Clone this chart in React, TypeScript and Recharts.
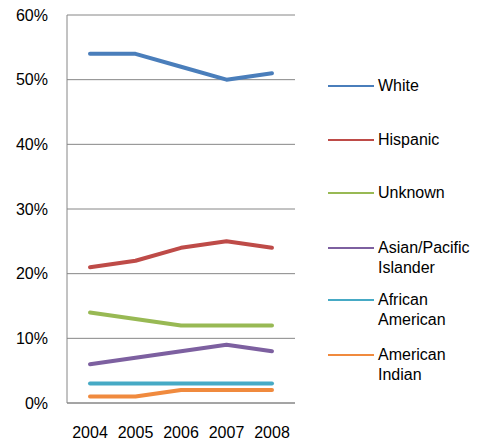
import React from "react";
import { LineChart, Line, XAxis, YAxis, CartesianGrid } from "recharts";

const years = ["2004", "2005", "2006", "2007", "2008"];
const white = [0.54, 0.54, 0.52, 0.5, 0.51];
const hispanic = [0.21, 0.22, 0.24, 0.25, 0.24];
const unknown = [0.14, 0.13, 0.12, 0.12, 0.12];
const asianPacific = [0.06, 0.07, 0.08, 0.09, 0.08];
const africanAmerican = [0.03, 0.03, 0.03, 0.03, 0.03];
const americanIndian = [0.01, 0.01, 0.02, 0.02, 0.02];
const yTicks = [0, 0.1, 0.2, 0.3, 0.4, 0.5, 0.6];

const series = [
	{ key: "white", label: ["White"], color: "#4A7EBB", values: white },
	{ key: "hispanic", label: ["Hispanic"], color: "#BE4B48", values: hispanic },
	{ key: "unknown", label: ["Unknown"], color: "#98B954", values: unknown },
	{ key: "asian", label: ["Asian/Pacific", "Islander"], color: "#7D60A0", values: asianPacific },
	{ key: "african", label: ["African", "American"], color: "#46AAC5", values: africanAmerican },
	{ key: "indian", label: ["American", "Indian"], color: "#F08A3E", values: americanIndian },
];

const data = years.map((year, i) => {
	const row: Record<string, string | number> = { year };
	series.forEach((s) => {
		row[s.key] = s.values[i];
	});
	return row;
});

const FONT = "'Liberation Sans', Arial, sans-serif";

// legend rows: top y of each entry
const legendTops = [76, 130, 183, 238, 290, 345];

function LegendBox() {
	return (
		<div style={{ position: "absolute", left: 328, top: 0, width: 160 }}>
			{series.map((s, i) => (
				<div
					key={s.key}
					style={{
						position: "absolute",
						left: 0,
						top: legendTops[i],
						display: "flex",
						alignItems: "flex-start",
					}}
				>
					<div
						style={{
							width: 46,
							height: 2,
							background: s.color,
							marginTop: 9,
							marginRight: 4,
						}}
					/>
					<div style={{ fontSize: 16, lineHeight: "20px", color: "#000", fontFamily: FONT, whiteSpace: "nowrap" }}>
						{s.label.map((l) => (
							<div key={l}>{l}</div>
						))}
					</div>
				</div>
			))}
		</div>
	);
}

export default function App() {
	return (
		<div style={{ position: "absolute", left: 0, top: 0, width: 489, height: 442, background: "#fff" }}>
			<LineChart
				width={489}
				height={442}
				data={data}
				margin={{ top: 15, right: 194, bottom: 9, left: 0 }}
			>
				<CartesianGrid vertical={false} stroke="#868686" strokeWidth={1} />
				<XAxis
					dataKey="year"
					height={30}
					padding={{ left: 23, right: 23 }}
					axisLine={{ stroke: "#868686" }}
					tickLine={false}
					tickMargin={18}
					tick={{ fill: "#000", fontSize: 16, fontFamily: FONT }}
					interval={0}
				/>
				<YAxis
					width={67}
					domain={[0, 0.6]}
					ticks={yTicks}
					tickFormatter={(v: number) => `${Math.round(v * 100)}%`}
					axisLine={{ stroke: "#868686" }}
					tickLine={false}
					tickMargin={13}
					tick={{ fill: "#000", fontSize: 16, fontFamily: FONT }}
				/>
				{series.map((s) => (
					<Line
						key={s.key}
						dataKey={s.key}
						type="linear"
						stroke={s.color}
						strokeWidth={4}
						strokeLinecap="round"
						strokeLinejoin="round"
						dot={false}
						activeDot={false}
						isAnimationActive={false}
					/>
				))}
			</LineChart>
			<LegendBox />
		</div>
	);
}
